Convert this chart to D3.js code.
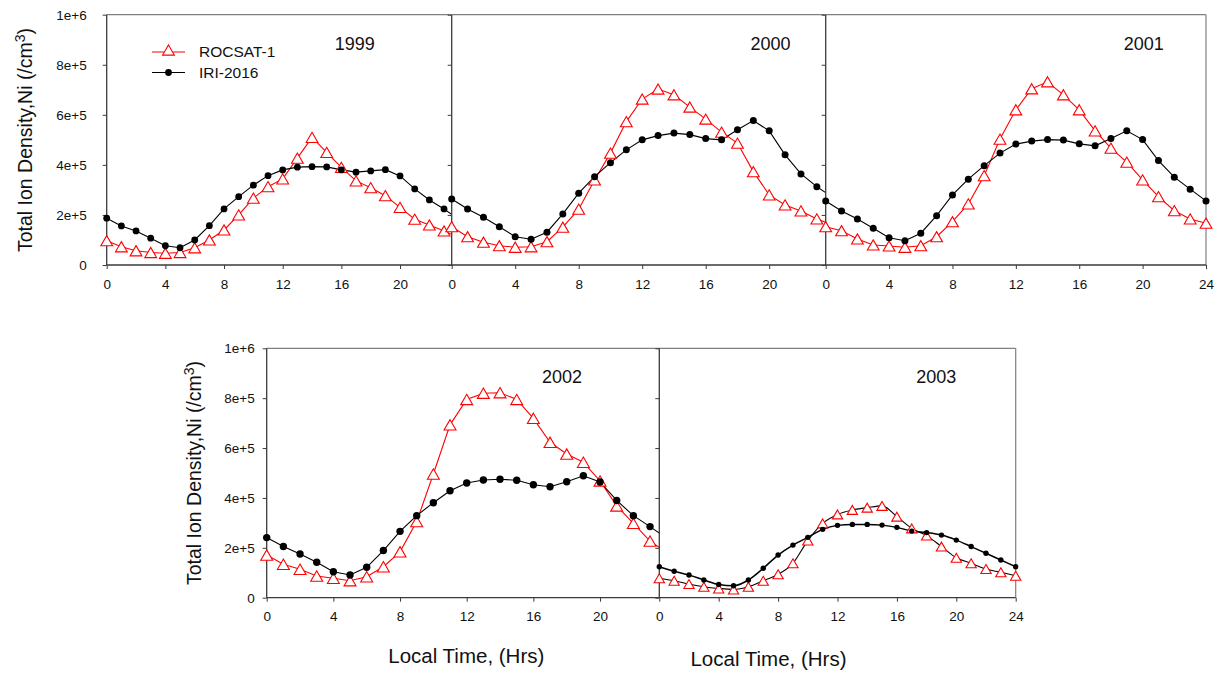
<!DOCTYPE html>
<html>
<head>
<meta charset="utf-8">
<script src="https://cdn.jsdelivr.net/npm/d3@7"></script>
<style>
  body { margin: 0; background: #fff; }
  svg { display: block; font-family: "Liberation Sans", Arial, sans-serif; }
</style>
</head>
<body>
<svg id="chart" width="1220" height="675"></svg>
<script>
// hours 0..24, values in ions/cm^3
const hours = d3.range(0, 25);
const yTicks = [0, 2e5, 4e5, 6e5, 8e5, 1e6];
const yTickLabels = ["0", "2e+5", "4e+5", "6e+5", "8e+5", "1e+6"];
const xTicks = [0, 4, 8, 12, 16, 20, 24];
const seriesNames = ["ROCSAT-1", "IRI-2016"];

const rocsat1999 = [97000, 73000, 57000, 50000, 47000, 50000, 69000, 100000, 140000, 200000, 267000, 313000, 344000, 427000, 510000, 450000, 390000, 336000, 309000, 277000, 230000, 183000, 160000, 136000, 110000];
const iri1999 = [187000, 156000, 136000, 107000, 77000, 69000, 100000, 157000, 224000, 273000, 319000, 357000, 380000, 391000, 393000, 392000, 380000, 371000, 376000, 381000, 356000, 304000, 260000, 224000, 182000];

const rocsat2000 = [153000, 113000, 91000, 77000, 71000, 73000, 93000, 151000, 223000, 340000, 447000, 573000, 663000, 703000, 680000, 631000, 583000, 531000, 487000, 373000, 280000, 240000, 216000, 184000, 160000];
const iri2000 = [264000, 224000, 191000, 153000, 113000, 103000, 131000, 204000, 287000, 353000, 409000, 460000, 500000, 517000, 527000, 521000, 505000, 500000, 540000, 577000, 536000, 440000, 364000, 313000, 270000];

const rocsat2001 = [153000, 137000, 104000, 80000, 76000, 71000, 77000, 113000, 173000, 244000, 357000, 503000, 620000, 704000, 732000, 680000, 620000, 536000, 467000, 411000, 340000, 273000, 217000, 184000, 167000];
const iri2001 = [256000, 216000, 184000, 147000, 109000, 97000, 127000, 197000, 280000, 343000, 397000, 447000, 483000, 495000, 501000, 499000, 484000, 476000, 505000, 536000, 501000, 417000, 351000, 303000, 256000];

const rocsat2002 = [171000, 134000, 114000, 87000, 78000, 68000, 84000, 124000, 184000, 305000, 496000, 693000, 795000, 820000, 822000, 795000, 719000, 623000, 576000, 543000, 468000, 368000, 298000, 227000, 182000];
const iri2002 = [241000, 205000, 175000, 142000, 104000, 91000, 122000, 189000, 266000, 329000, 381000, 429000, 460000, 472000, 475000, 471000, 453000, 445000, 465000, 489000, 464000, 390000, 329000, 285000, 238000];

const rocsat2003 = [78000, 68000, 55000, 44000, 37000, 33000, 44000, 68000, 94000, 138000, 229000, 298000, 334000, 352000, 361000, 368000, 325000, 278000, 249000, 205000, 160000, 138000, 115000, 102000, 88000];
const iri2003 = [124000, 106000, 91000, 71000, 53000, 48000, 71000, 118000, 171000, 211000, 242000, 274000, 290000, 294000, 294000, 291000, 282000, 267000, 261000, 251000, 231000, 205000, 178000, 151000, 124000];

// layout of the five panels (pixel geometry)
const panels = [
  { year: "1999", rocsat: rocsat1999, iri: iri1999, x0: 106.7, x24: 458.7, edge: 451.7, top: 14.7, bottom: 265,
    yLabels: true, yLabelGap: 16, yearX: 354.7, yearY: 50, legend: true, last: false,
    rocsatLine: "#ff0000", curve: d3.curveLinear, tri: 60, dot: 3.4 },
  { year: "2000", rocsat: rocsat2000, iri: iri2000, x0: 451.7, x24: 832.7, edge: 825.7, top: 14.7, bottom: 265,
    yLabels: false, yearX: 770.5, yearY: 50, last: false,
    rocsatLine: "#ff0000", curve: d3.curveLinear, tri: 60, dot: 3.5 },
  { year: "2001", rocsat: rocsat2001, iri: iri2001, x0: 825.7, x24: 1206, edge: 1206, top: 14.7, bottom: 265,
    yLabels: false, yearX: 1143.7, yearY: 50, last: true,
    rocsatLine: "#ff0000", curve: d3.curveLinear, tri: 60, dot: 3.5 },
  { year: "2002", rocsat: rocsat2002, iri: iri2002, x0: 266.7, x24: 666.7, edge: 659.3, top: 348.3, bottom: 597.7,
    yLabels: true, yLabelGap: 8, yearX: 562, yearY: 383, last: false,
    rocsatLine: "#ff0000", curve: d3.curveLinear, tri: 62, dot: 3.7 },
  { year: "2003", rocsat: rocsat2003, iri: iri2003, x0: 659.3, x24: 1015.7, edge: 1015.7, top: 348.3, bottom: 597.7,
    yLabels: false, yearX: 936.3, yearY: 383, last: true,
    rocsatLine: "#000000", curve: d3.curveMonotoneX, tri: 46, dot: 2.7 }
];

const svg = d3.select("#chart");
const axisColor = "#3a3a3a";
const frameColor = "#808080";

function triangle(g, size) {
  // shift so the bounding box (not the centroid) sits on the point
  const h = Math.sqrt(size / (Math.sqrt(3) * 3));
  return g.append("path")
    .attr("d", d3.symbol(d3.symbolTriangle, size)())
    .attr("transform", `translate(0,${h / 2})`);
}

panels.forEach((p, i) => {
  const x = d3.scaleLinear().domain([0, 24]).range([p.x0, p.x24]);
  const y = d3.scaleLinear().domain([0, 1e6]).range([p.bottom, p.top]);
  const g = svg.append("g").attr("class", "panel-" + p.year);

  // frame: top (and right on last panel)
  g.append("line").attr("x1", p.x0).attr("x2", p.edge).attr("y1", p.top).attr("y2", p.top)
    .attr("stroke", frameColor).attr("stroke-width", 1.2);
  if (p.last) {
    g.append("line").attr("x1", p.edge).attr("x2", p.edge).attr("y1", p.top).attr("y2", p.bottom)
      .attr("stroke", frameColor).attr("stroke-width", 1.2);
  }

  // y axis
  const yAxis = g.append("g").attr("transform", `translate(${p.x0},0)`)
    .call(d3.axisLeft(y).tickValues(yTicks).tickSize(4)
      .tickPadding(p.yLabels ? p.yLabelGap : 3)
      .tickFormat((d, k) => p.yLabels ? yTickLabels[k] : ""));
  yAxis.select(".domain").remove();
  yAxis.selectAll("line").attr("stroke", axisColor);
  yAxis.selectAll("text").attr("fill", "#111").style("font-size", "13.5px")
    .style("font-family", "'Liberation Sans', Arial, sans-serif");
  g.append("line").attr("x1", p.x0).attr("x2", p.x0).attr("y1", p.top).attr("y2", p.bottom)
    .attr("stroke", axisColor).attr("stroke-width", 1.3);

  // x axis
  const xAxis = g.append("g").attr("transform", `translate(0,${p.bottom})`)
    .call(d3.axisBottom(x).tickValues(p.last ? xTicks : xTicks.slice(0, -1)).tickSize(4).tickPadding(10));
  xAxis.select(".domain").remove();
  xAxis.selectAll("line").attr("stroke", axisColor);
  xAxis.selectAll("text").attr("fill", "#111").style("font-size", "13.5px")
    .style("font-family", "'Liberation Sans', Arial, sans-serif");
  g.append("line").attr("x1", p.x0).attr("x2", p.edge).attr("y1", p.bottom).attr("y2", p.bottom)
    .attr("stroke", axisColor).attr("stroke-width", 1.3);

  // clip: anything past the next panel's axis is hidden
  const clipId = "clip" + i;
  svg.append("clipPath").attr("id", clipId).append("rect")
    .attr("x", p.x0 - 20).attr("y", p.top - 20)
    .attr("width", (p.last ? p.x24 + 20 : p.edge) - (p.x0 - 20))
    .attr("height", p.bottom - p.top + 40);
  const plot = g.append("g").attr("clip-path", `url(#${clipId})`);

  const line = d3.line().x((d, k) => x(hours[k])).y(d => y(d)).curve(p.curve);

  plot.append("path").datum(p.rocsat).attr("d", line)
    .attr("fill", "none").attr("stroke", p.rocsatLine).attr("stroke-width", 1.1);
  plot.append("path").datum(p.iri).attr("d", line)
    .attr("fill", "none").attr("stroke", "#000").attr("stroke-width", p.year === "2003" ? 1.5 : 1.1);

  p.rocsat.forEach((v, k) => {
    const m = plot.append("g").attr("transform", `translate(${x(hours[k])},${y(v)})`);
    triangle(m, p.tri).attr("fill", "#fff").attr("stroke", "#ff0000").attr("stroke-width", 1.1);
  });
  p.iri.forEach((v, k) => {
    plot.append("circle").attr("cx", x(hours[k])).attr("cy", y(v)).attr("r", p.dot).attr("fill", "#000");
  });

  // year label
  g.append("text").attr("x", p.yearX).attr("y", p.yearY).attr("text-anchor", "middle")
    .style("font-size", "18px").attr("fill", "#111").text(p.year);

  // legend (first panel only)
  if (p.legend) {
    const lg = g.append("g");
    const rows = [{ name: seriesNames[0], y: 52 }, { name: seriesNames[1], y: 72.5 }];
    rows.forEach((r, k) => {
      lg.append("line").attr("x1", 152).attr("x2", 185).attr("y1", r.y).attr("y2", r.y)
        .attr("stroke", k === 0 ? "#ff0000" : "#000").attr("stroke-width", 1.1);
      if (k === 0) {
        const m = lg.append("g").attr("transform", `translate(168.5,${r.y - 2})`);
        triangle(m, 60).attr("fill", "#fff").attr("stroke", "#ff0000").attr("stroke-width", 1.1);
      } else {
        lg.append("circle").attr("cx", 168.5).attr("cy", r.y).attr("r", 3.4).attr("fill", "#000");
      }
      lg.append("text").attr("x", 199).attr("y", r.y).attr("dy", "0.35em")
        .style("font-size", "15.5px").attr("fill", "#111").text(r.name);
    });
  }
});

// y axis titles
function yTitle(cx, cy) {
  const t = svg.append("text")
    .attr("transform", `translate(${cx},${cy}) rotate(-90)`)
    .attr("text-anchor", "middle")
    .style("font-size", "19.5px").attr("fill", "#111");
  t.append("tspan").text("Total Ion Density,Ni (/cm");
  t.append("tspan").attr("dy", -7).style("font-size", "14px").text("3");
  t.append("tspan").attr("dy", 7).text(")");
}
yTitle(32, 140);
yTitle(201, 473);

// x axis titles
[[466.3, 663], [768.5, 666]].forEach(([cx, cy]) => {
  svg.append("text").attr("x", cx).attr("y", cy).attr("text-anchor", "middle")
    .style("font-size", "20.5px").attr("fill", "#111").text("Local Time, (Hrs)");
});
</script>
</body>
</html>
